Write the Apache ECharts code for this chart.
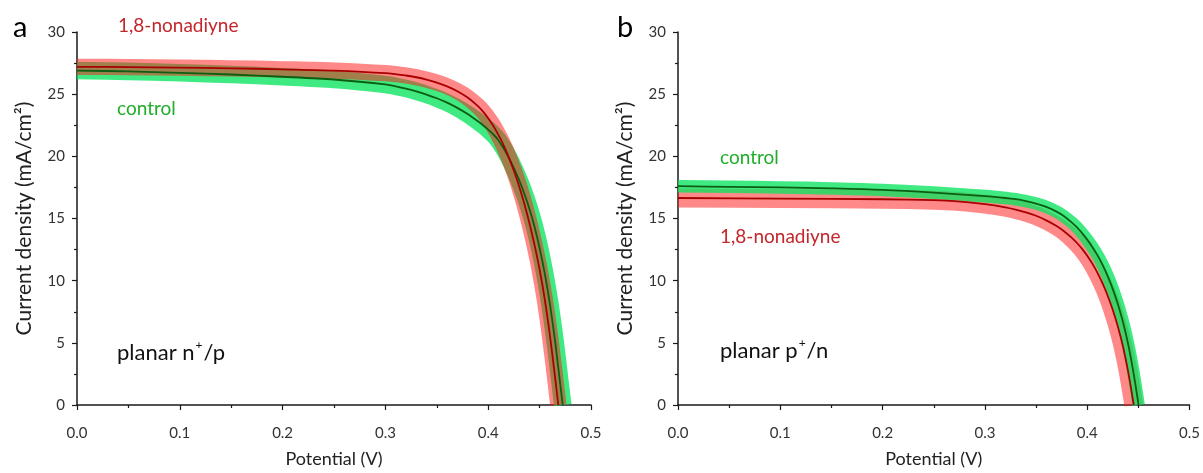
<!DOCTYPE html>
<html><head><meta charset="utf-8">
<script src="https://cdn.jsdelivr.net/npm/echarts@6/dist/echarts.min.js"></script>
<style>html,body{margin:0;padding:0;background:#fff}#c{width:1203px;height:473px}</style>
</head><body><div id="c"></div><script>
const xTickLabels = ['0.0','0.1','0.2','0.3','0.4','0.5'];
const yTickLabels = ['0','5','10','15','20','25','30'];
const xTitle = 'Potential (V)';
const yTitle = 'Current density (mA/cm\u00B2)';

// Panel a (planar n+/p): mean J-V curves, [potential V, current density mA/cm2]
const aNon = [[0,27.2],[0.05,27.18],[0.1,27.13],[0.15,27.08],[0.2,27.0],[0.25,26.9],[0.3,26.69],[0.32,26.5],[0.33,26.36],[0.34,26.17],[0.35,25.93],[0.36,25.63],[0.37,25.24],[0.38,24.73],[0.39,24.04],[0.395,23.6],[0.4,23.07],[0.405,22.45],[0.412,21.4],[0.416,20.7],[0.42,19.92],[0.425,18.84],[0.43,17.62],[0.435,16.23],[0.44,14.66],[0.445,12.9],[0.45,10.9],[0.455,8.52],[0.46,5.62],[0.465,2.27],[0.4682,0]];
const aCtl = [[0,26.9],[0.05,26.83],[0.1,26.72],[0.15,26.58],[0.2,26.4],[0.25,26.18],[0.3,25.78],[0.31,25.63],[0.32,25.45],[0.33,25.23],[0.34,24.97],[0.35,24.67],[0.36,24.32],[0.37,23.9],[0.38,23.4],[0.39,22.82],[0.395,22.5],[0.4,22.15],[0.405,21.76],[0.409,21.4],[0.415,20.65],[0.42,19.9],[0.425,19.05],[0.43,18.1],[0.435,17.03],[0.44,15.8],[0.445,14.35],[0.45,12.63],[0.455,10.58],[0.46,8.13],[0.465,5.18],[0.47,1.73],[0.4725,0]];
// Panel b (planar p+/n)
const bCtl = [[0,17.6],[0.05,17.55],[0.1,17.5],[0.15,17.42],[0.2,17.3],[0.25,17.08],[0.3,16.8],[0.32,16.65],[0.33,16.55],[0.34,16.4],[0.35,16.2],[0.36,15.93],[0.37,15.55],[0.377,15.2],[0.385,14.67],[0.39,14.28],[0.395,13.82],[0.4,13.3],[0.405,12.71],[0.41,12.05],[0.415,11.27],[0.42,10.37],[0.425,9.32],[0.43,8.1],[0.435,6.65],[0.44,4.9],[0.445,2.7],[0.4502,0]];
const bNon = [[0,16.65],[0.1,16.6],[0.2,16.55],[0.25,16.47],[0.27,16.4],[0.3,16.15],[0.32,15.9],[0.33,15.72],[0.34,15.5],[0.35,15.22],[0.36,14.85],[0.37,14.4],[0.377,14.0],[0.385,13.44],[0.39,13.03],[0.395,12.56],[0.4,12.01],[0.405,11.37],[0.41,10.63],[0.415,9.78],[0.42,8.79],[0.425,7.64],[0.43,6.29],[0.435,4.69],[0.44,2.69],[0.4455,0]];
// spread (band) full widths, in J units at the plateau
const aNonSpread = 1.3, aCtlSpread = 1.4, bCtlSpread = 1.0, bNonSpread = 1.5;

const F = 'Lato, "Open Sans", sans-serif';
const AX = '#1a1a1a';
const RED_FILL = 'rgba(255,20,20,0.5)', RED_LINE = '#a80000';
const GRN_FILL = 'rgba(10,228,95,0.78)', GRN_LINE = '#0b5e12';
const PX_PER_J = 377 / 30;

function xAx(gi){
  return {type:'value', gridIndex:gi, min:0, max:0.5, interval:0.1,
    name:xTitle, nameLocation:'middle', nameGap:45,
    nameTextStyle:{fontFamily:F, fontSize:18, color:'#222'},
    axisLine:{lineStyle:{color:AX, width:1.5}},
    axisTick:{length:5, lineStyle:{color:AX, width:1.2}},
    minorTick:{show:true, splitNumber:2, length:3, lineStyle:{color:AX, width:1.2}},
    splitLine:{show:false},
    axisLabel:{margin:21, fontFamily:F, fontSize:15, color:'#333',
      formatter:(v)=>xTickLabels[Math.round(v*10)]}};
}
function yAx(gi){
  return {type:'value', gridIndex:gi, min:0, max:30, interval:5,
    name:yTitle, nameLocation:'middle', nameGap:42,
    nameTextStyle:{fontFamily:F, fontSize:21, color:'#222'},
    axisLine:{show:true, lineStyle:{color:AX, width:1.5}},
    axisTick:{show:true, length:5, lineStyle:{color:AX, width:1.2}},
    minorTick:{show:true, splitNumber:2, length:3, lineStyle:{color:AX, width:1.2}},
    splitLine:{show:false},
    axisLabel:{margin:12, fontFamily:F, fontSize:15, color:'#333',
      formatter:(v)=>yTickLabels[Math.round(v/5)]}};
}
function band(gi, data, spread, color){
  return {type:'line', xAxisIndex:gi, yAxisIndex:gi, data:data, showSymbol:false, symbol:'none',
    smooth:0.3, z:2, silent:true,
    lineStyle:{color:color, width:spread*PX_PER_J, cap:'butt', join:'round'}};
}
function line(gi, data, color){
  return {type:'line', xAxisIndex:gi, yAxisIndex:gi, data:data, showSymbol:false, symbol:'none',
    smooth:0.3, z:5, lineStyle:{color:color, width:1.8}, silent:true};
}
function txt(left, top, text, color, size){
  return {type:'text', left:left, top:top, z:10, style:{text:text, fill:color, fontFamily:F, fontSize:size}};
}
function supTxt(left, top, a, s, b){
  return {type:'text', left:left, top:top, z:10, style:{text:'{a|'+a+'}{s|'+s+'}{a|'+b+'}',
    rich:{a:{fontFamily:F, fontSize:22, fill:'#111', lineHeight:28},
          s:{fontFamily:F, fontSize:12, fill:'#111', lineHeight:28, verticalAlign:'top', padding:[0,1,0,1]}}}};
}

const chart = echarts.init(document.getElementById('c'), null, {renderer:'canvas'});
chart.setOption({
  animation:false,
  backgroundColor:'#fff',
  grid:[{left:77, right:612, top:32, bottom:64}, {left:678, right:13, top:32, bottom:64}],
  xAxis:[xAx(0), xAx(1)],
  yAxis:[yAx(0), yAx(1)],
  series:[
    band(0, aCtl, aCtlSpread, GRN_FILL),
    band(0, aNon, aNonSpread, RED_FILL),
    line(0, aCtl, GRN_LINE),
    line(0, aNon, RED_LINE),
    band(1, bNon, bNonSpread, RED_FILL),
    band(1, bCtl, bCtlSpread, GRN_FILL),
    line(1, bNon, RED_LINE),
    line(1, bCtl, GRN_LINE)
  ],
  graphic:[
    txt(13, 13, 'a', '#000', 29),
    txt(617, 13, 'b', '#000', 29),
    txt(118, 16, '1,8-nonadiyne', '#c4262b', 19),
    txt(117, 99, 'control', '#1fae2a', 19),
    supTxt(117, 339, 'planar n', '+', '/p'),
    txt(720, 148, 'control', '#1fae2a', 19),
    txt(720, 227, '1,8-nonadiyne', '#c4262b', 19),
    supTxt(720, 337, 'planar p', '+', '/n')
  ]
});
</script></body></html>
